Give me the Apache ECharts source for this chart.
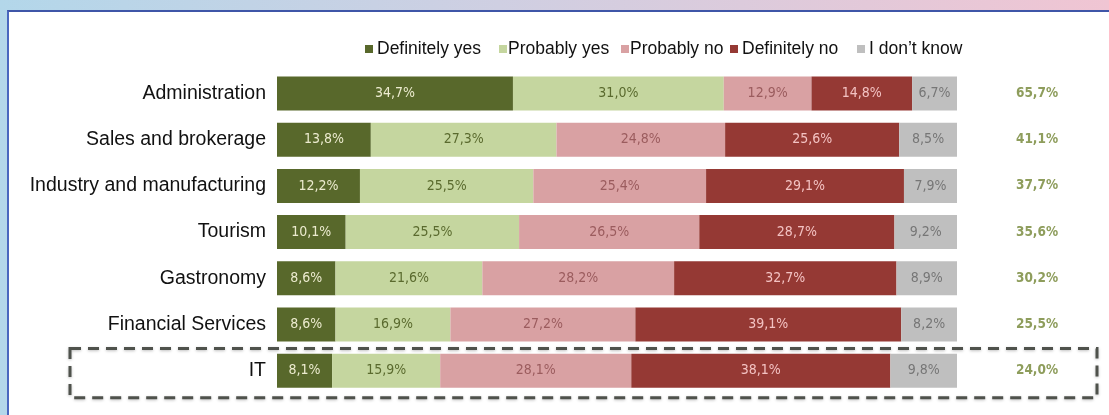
<!DOCTYPE html>
<html>
<head>
<meta charset="utf-8">
<script src="https://cdn.jsdelivr.net/npm/echarts@6/dist/echarts.min.js"></script>
<style>
  html, body { margin: 0; padding: 0; width: 1109px; height: 415px; overflow: hidden; }
  body { background: linear-gradient(to right, #b3d7ea 0%, #cfcfe2 45%, #f0c5d3 100%); position: relative; }
  #panel { position: absolute; left: 7px; top: 10px; right: 0; bottom: 0; background: #fff;
           border-left: 2px solid #4a67bf; border-top: 2px solid #3f56a8; }
  #chart { position: absolute; left: 0; top: 0; width: 1109px; height: 415px; }
</style>
</head>
<body>
<div id="panel"></div>
<div id="chart"></div>
<script>
const categories = ["Administration", "Sales and brokerage", "Industry and manufacturing", "Tourism", "Gastronomy", "Financial Services", "IT"];
const definitelyYes = [34.7, 13.8, 12.2, 10.1, 8.6, 8.6, 8.1];
const probablyYes   = [31.0, 27.3, 25.5, 25.5, 21.6, 16.9, 15.9];
const probablyNo    = [12.9, 24.8, 25.4, 26.5, 28.2, 27.2, 28.1];
const definitelyNo  = [14.8, 25.6, 29.1, 28.7, 32.7, 39.1, 38.1];
const dontKnow      = [6.7, 8.5, 7.9, 9.2, 8.9, 8.2, 9.8];
const totalsYes     = ["65,7%", "41,1%", "37,7%", "35,6%", "30,2%", "25,5%", "24,0%"];
const seriesNames   = ["Definitely yes", "Probably yes", "Probably no", "Definitely no", "I don\u2019t know"];

const colors      = ["#58682b", "#c5d69f", "#d9a1a3", "#953934", "#bfbfbf"];
const labelColors = ["#ecebcf", "#5a6a2e", "#9b5c5e", "#f3c2c2", "#767676"];
const seriesData  = [definitelyYes, probablyYes, probablyNo, definitelyNo, dontKnow];
const legendLeft  = [365, 499, 621, 730, 857];
const legendTextPad = [-1, -4, -4, -1, -1];

const fmt = v => v.toFixed(1).replace('.', ',') + '%';
const condensed = "'DejaVu Sans Condensed', 'Liberation Sans Narrow', sans-serif";

const chart = echarts.init(document.getElementById('chart'), null, { renderer: 'canvas' });

const option = {
  animation: false,
  backgroundColor: 'transparent',
  legend: seriesNames.map((n, i) => ({
    data: [n], left: legendLeft[i], top: 40, padding: 0, icon: 'rect', itemWidth: 8, itemHeight: 8, itemGap: 0,
    textStyle: { fontFamily: 'Liberation Sans, Arial, sans-serif', fontSize: 17.5, color: '#111', padding: [0, 0, 0, legendTextPad[i]] },
    selectedMode: false
  })),
  grid: { left: 277, width: 680, top: 70.4, height: 323.4, containLabel: false },
  xAxis: { type: 'value', min: 0, max: 100, show: false },
  yAxis: [
    { type: 'category', data: categories, inverse: true,
      axisLine: { show: false }, axisTick: { show: false },
      axisLabel: { fontFamily: 'Liberation Sans, Arial, sans-serif', fontSize: 19.5, color: '#111', margin: 11 } },
    { type: 'category', data: totalsYes, inverse: true, position: 'right',
      axisLine: { show: false }, axisTick: { show: false },
      axisLabel: { fontFamily: condensed, fontSize: 13.5, fontWeight: 'bold', color: '#8e9d5c', align: 'center', margin: 80 } }
  ],
  series: seriesNames.map((n, i) => ({
    name: n, type: 'bar', stack: 'total', yAxisIndex: 0, barWidth: 34,
    data: seriesData[i],
    itemStyle: { color: colors[i] },
    label: { show: true, position: 'inside', formatter: p => fmt(p.value),
             fontFamily: condensed, fontSize: 14, color: labelColors[i] }
  }))
};
chart.setOption(option);

// dashed highlight box around the IT row, placed from the axis scale
const itY = chart.convertToPixel({ yAxisIndex: 0 }, 'IT');
const band = 46.2;
chart.setOption({
  graphic: [{
    type: 'rect', shape: { x: 70, y: itY - band / 2 + 1, width: 1027, height: band + 3 },
    style: { fill: 'none', stroke: '#4f524c', lineWidth: 3, lineDash: [11, 7],
             shadowColor: 'rgba(0,0,0,0.25)', shadowBlur: 3, shadowOffsetY: 1 },
    z: 100
  }]
});
</script>
</body>
</html>
